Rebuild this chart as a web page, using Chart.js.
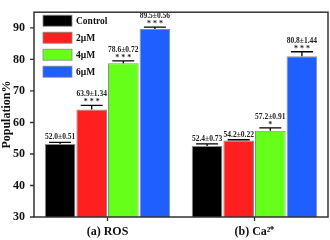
<!DOCTYPE html>
<html>
<head>
<meta charset="utf-8">
<script src="https://cdn.jsdelivr.net/npm/chart.js@4.4.0/dist/chart.umd.min.js"></script>
<style>
  html, body { margin: 0; padding: 0; background: #fff; }
  #wrap { width: 330px; height: 240px; }
</style>
</head>
<body>
<div id="wrap"><canvas id="c" width="330" height="240"></canvas></div>
<script>
const categories = ["(a) ROS", "(b) Ca\u00B2\u207A"];
const seriesNames = ["Control", "2\u03BCM", "4\u03BCM", "6\u03BCM"];
const seriesColors = ["#000000", "#ff1f1f", "#66ff1a", "#1f5fff"];
// bar heights as drawn, per series: [ROS, Ca2+]
const controlVals = [53.2, 52.5];
const uM2Vals = [64.1, 54.3];
const uM4Vals = [78.8, 57.4];
const uM6Vals = [89.7, 81.0];
const controlErr = [0.51, 0.73];
const uM2Err = [1.34, 0.22];
const uM4Err = [0.72, 0.91];
const uM6Err = [0.56, 1.44];
const controlText = ["52.0\u00B10.51", "52.4\u00B10.73"];
const uM2Text = ["63.9\u00B11.34", "54.2\u00B10.22"];
const uM4Text = ["78.6\u00B10.72", "57.2\u00B10.91"];
const uM6Text = ["89.5\u00B10.56", "80.8\u00B11.44"];
const controlStars = ["", ""];
const uM2Stars = ["***", ""];
const uM4Stars = ["***", "*"];
const uM6Stars = ["***", "***"];
const yTicks = [30, 40, 50, 60, 70, 80, 90];

const values = [controlVals, uM2Vals, uM4Vals, uM6Vals];
const errs = [controlErr, uM2Err, uM4Err, uM6Err];
const texts = [controlText, uM2Text, uM4Text, uM6Text];
const stars = [controlStars, uM2Stars, uM4Stars, uM6Stars];

const serif = "'Liberation Serif', 'Times New Roman', serif";

const errorBars = {
  id: "errorBars",
  afterDatasetsDraw(chart) {
    const { ctx, scales: { y } } = chart;
    ctx.save();
    chart.data.datasets.forEach((ds, di) => {
      const meta = chart.getDatasetMeta(di);
      meta.data.forEach((bar, i) => {
        const v = values[di][i];
        const e = errs[di][i];
        const x = bar.x;
        const yTop = y.getPixelForValue(v + e);
        const yBot = y.getPixelForValue(v);
        ctx.strokeStyle = "#000";
        ctx.lineWidth = 1.3;
        ctx.beginPath();
        ctx.moveTo(x, yBot);
        ctx.lineTo(x, yTop);
        ctx.moveTo(x - 11, yTop);
        ctx.lineTo(x + 11, yTop);
        ctx.stroke();
        ctx.fillStyle = "#222";
        ctx.textAlign = "center";
        ctx.textBaseline = "middle";
        let ty;
        if (stars[di][i]) {
          ctx.font = "bold 8px " + serif;
          ctx.fillText(stars[di][i].split("").join(" "), x, yTop - 3);
          ty = yTop - 11;
        } else {
          ty = yTop - 5;
        }
        ctx.font = "bold 7.5px " + serif;
        ctx.fillText(texts[di][i], x, ty);
      });
    });
    ctx.restore();
  },
};

const frameLegend = {
  id: "frameLegend",
  afterDraw(chart) {
    const { ctx, chartArea: { left, right, top, bottom }, scales: { x, y } } = chart;
    ctx.save();
    ctx.strokeStyle = "#333";
    ctx.lineWidth = 1.5;
    ctx.strokeRect(left, top, right - left, bottom - top);
    // outward tick marks
    ctx.lineWidth = 1.3;
    ctx.beginPath();
    yTicks.forEach((t) => {
      const py = y.getPixelForValue(t);
      ctx.moveTo(left - 4, py);
      ctx.lineTo(left, py);
    });
    categories.forEach((c, i) => {
      const px = x.getPixelForValue(i);
      ctx.moveTo(px, bottom);
      ctx.lineTo(px, bottom + 4);
    });
    ctx.stroke();
    // legend
    seriesNames.forEach((name, i) => {
      const yy = top + 3 + i * 17;
      ctx.fillStyle = seriesColors[i];
      ctx.fillRect(left + 9, yy, 29, 11);
      ctx.strokeStyle = "#888";
      ctx.lineWidth = 0.8;
      ctx.strokeRect(left + 9, yy, 29, 11);
      ctx.fillStyle = "#111";
      ctx.font = "bold 9.5px " + serif;
      ctx.textAlign = "left";
      ctx.textBaseline = "middle";
      ctx.fillText(name, left + 42, yy + 6);
    });
    ctx.restore();
  },
};

new Chart(document.getElementById("c"), {
  type: "bar",
  data: {
    labels: categories,
    datasets: values.map((v, i) => ({
      label: seriesNames[i],
      data: v,
      backgroundColor: seriesColors[i],
      borderColor: "#8c8c8c",
      borderWidth: 1,
      categoryPercentage: 0.86,
      barPercentage: 0.97,
    })),
  },
  options: {
    responsive: false,
    animation: false,
    layout: { padding: { left: 0, right: 2, top: 2, bottom: 0 } },
    plugins: { legend: { display: false }, tooltip: { enabled: false } },
    scales: {
      x: {
        grid: { display: false, tickLength: 4 },
        border: { display: false },
        ticks: { color: "#111", font: { family: serif, weight: "bold", size: 12 }, padding: 4 },
        afterFit(s) { s.height = 23; },
      },
      y: {
        min: 30,
        max: 95,
        afterBuildTicks(s) { s.ticks = yTicks.map((v) => ({ value: v })); },
        grid: { display: false, tickLength: 4 },
        border: { display: false },
        ticks: { color: "#111", font: { family: serif, weight: "bold", size: 12 }, padding: 5 },
        title: { display: true, text: "Population%", color: "#111", font: { family: serif, weight: "bold", size: 12 }, padding: 0 },
        afterFit(s) { s.width = 34; },
      },
    },
  },
  plugins: [errorBars, frameLegend],
});
</script>
</body>
</html>
